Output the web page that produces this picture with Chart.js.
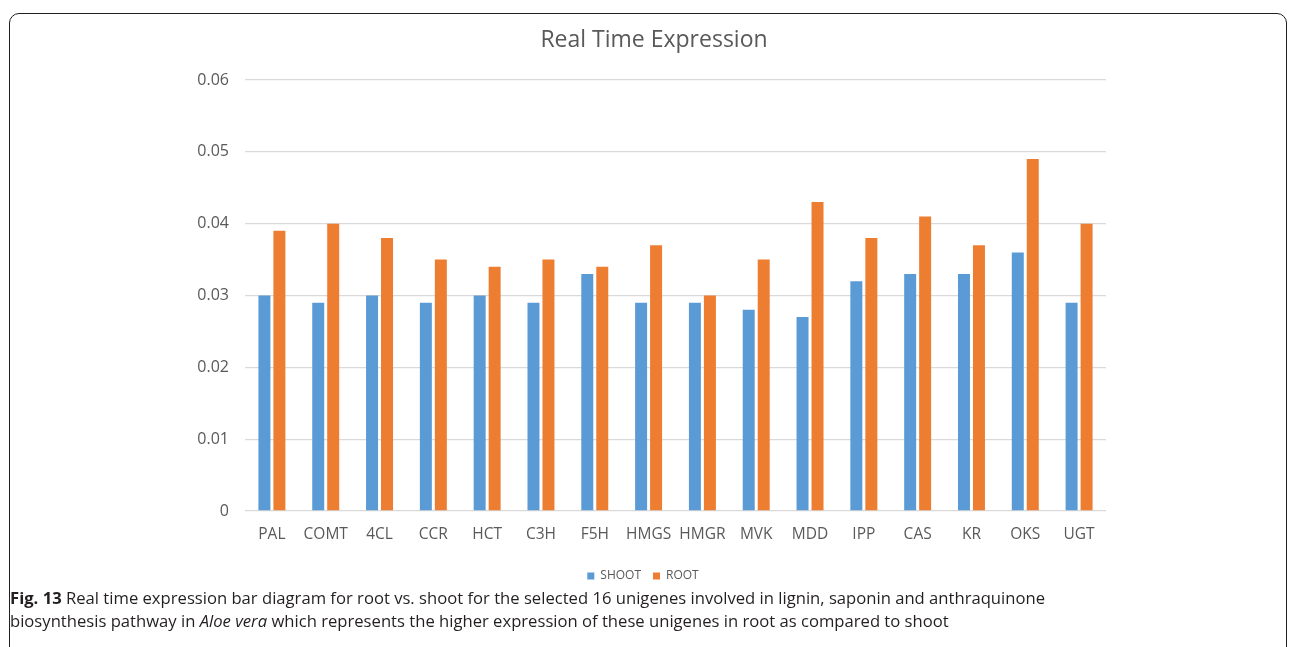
<!DOCTYPE html>
<html>
<head>
<meta charset="utf-8">
<script src="https://cdn.jsdelivr.net/npm/chart.js@4.4.1/dist/chart.umd.min.js"></script>
<style>
  html, body { margin: 0; padding: 0; background: #ffffff; width: 1290px; height: 647px; overflow: hidden; }
  #frame {
    position: absolute; left: 9px; top: 13px; width: 1278px; height: 720px;
    border: 1.6px solid #231f20; border-radius: 10px; box-sizing: border-box;
  }
  #wrap { position: absolute; left: 0; top: 0; width: 1290px; height: 595px; }
  .cap {
    position: absolute; left: 10px; font-family: "Open Sans", "Noto Sans", sans-serif;
    font-size: 16.5px; color: #231f20; white-space: nowrap; transform-origin: 0 50%;
    line-height: 20px;
  }
  #cap1 { top: 588px; }
  #cap2 { top: 611px; }
</style>
</head>
<body>
<div id="frame"></div>
<div id="wrap"><canvas id="chart"></canvas></div>
<div class="cap" id="cap1"><b>Fig. 13</b> Real time expression bar diagram for root vs. shoot for the selected 16 unigenes involved in lignin, saponin and anthraquinone</div>
<div class="cap" id="cap2">biosynthesis pathway in <i>Aloe vera</i> which represents the higher expression of these unigenes in root as compared to shoot</div>
<script>
// Genes on the x axis
const categories = ['PAL', 'COMT', '4CL', 'CCR', 'HCT', 'C3H', 'F5H', 'HMGS', 'HMGR', 'MVK', 'MDD', 'IPP', 'CAS', 'KR', 'OKS', 'UGT'];

// Relative expression per gene
const shootValues = [0.030, 0.029, 0.030, 0.029, 0.030, 0.029, 0.033, 0.029, 0.029, 0.028, 0.027, 0.032, 0.033, 0.033, 0.036, 0.029];
const rootValues  = [0.039, 0.040, 0.038, 0.035, 0.034, 0.035, 0.034, 0.037, 0.030, 0.035, 0.043, 0.038, 0.041, 0.037, 0.049, 0.040];

// Value axis labels, bottom to top
const yTickLabels = ['0', '0.01', '0.02', '0.03', '0.04', '0.05', '0.06'];

const axisGrey = '#595959';
const fontFamily = '"Open Sans", "Noto Sans", sans-serif';

// Nudge the title block sideways so it sits where the heading belongs
const titleShift = {
  id: 'titleShift',
  afterLayout(chart) {
    const t = chart.titleBlock;
    if (t) { t.left += 11; t.right += 11; }
  }
};

new Chart(document.getElementById('chart'), {
  type: 'bar',
  data: {
    labels: categories,
    datasets: [
      { label: 'SHOOT', data: shootValues, backgroundColor: '#5B9BD5', borderWidth: 0 },
      { label: 'ROOT',  data: rootValues,  backgroundColor: '#ED7D31', borderWidth: 0 }
    ]
  },
  options: {
    responsive: true,
    maintainAspectRatio: false,
    animation: false,
    categoryPercentage: 0.557,
    barPercentage: 0.8,
    layout: { padding: { left: 180, right: 184, top: 27, bottom: 3 } },
    plugins: {
      tooltip: { enabled: false },
      title: {
        display: true,
        text: 'Real Time Expression',
        color: axisGrey,
        font: { family: fontFamily, size: 23, weight: 'normal' },
        padding: { top: 0, bottom: 25.4 }
      },
      legend: {
        position: 'bottom',
        labels: {
          color: axisGrey,
          font: { family: fontFamily, size: 12 },
          boxWidth: 7,
          boxHeight: 7,
          padding: 12
        }
      }
    },
    scales: {
      x: {
        grid: { display: false, drawTicks: false },
        border: { display: false },
        ticks: {
          color: axisGrey,
          font: { family: fontFamily, size: 15.5 },
          padding: 14,
          maxRotation: 0,
          autoSkip: false
        },
        afterFit(scale) { scale.height = 47; }
      },
      y: {
        min: 0,
        max: 0.06,
        grid: { color: '#d9d9d9', lineWidth: 1.3, drawTicks: false },
        border: { display: false },
        ticks: {
          stepSize: 0.01,
          color: axisGrey,
          font: { family: fontFamily, size: 16 },
          padding: 16,
          callback: (v, i) => yTickLabels[i]
        },
        afterFit(scale) { scale.width = 65; }
      }
    }
  },
  plugins: [titleShift]
});

// Fit each caption line to the text block width
(function () {
  const c1 = document.getElementById('cap1');
  const c2 = document.getElementById('cap2');
  const k = 1035 / c1.getBoundingClientRect().width;
  c1.style.transform = 'scaleX(' + k + ')';
  c2.style.transform = 'scaleX(' + k + ')';
})();
</script>
</body>
</html>
